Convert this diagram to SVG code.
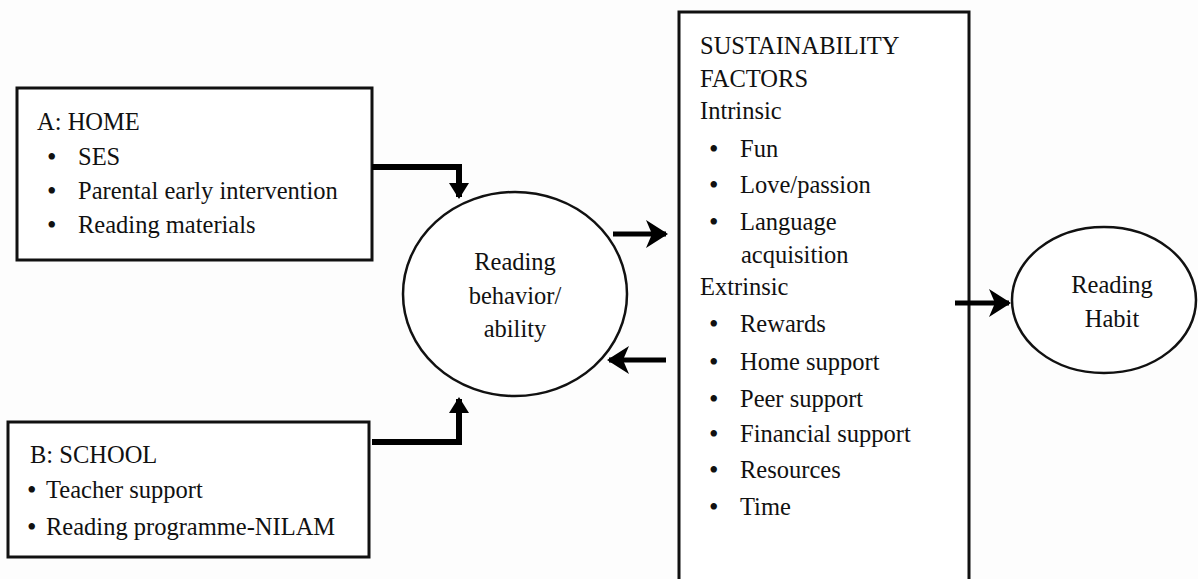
<svg xmlns="http://www.w3.org/2000/svg" width="1198" height="579" viewBox="0 0 1198 579">
<style>
  text { font-family: "Liberation Serif", "Times New Roman", serif; font-size: 24.5px; fill: #111; }
  .b { font-size: 27px; }
  .box { fill: #ffffff; stroke: #111; stroke-width: 3; }
  .ell { fill: #ffffff; stroke: #111; stroke-width: 2.5; }
  .mid { text-anchor: middle; }
  .conn { fill: none; stroke: #000; stroke-width: 6; }
  .conn2 { fill: none; stroke: #000; stroke-width: 5; }
</style>
<defs>
  <marker id="headBig" markerUnits="userSpaceOnUse" markerWidth="22" markerHeight="28" refX="20" refY="14" orient="auto">
    <path d="M0,0 L22,14 L0,28 L6,14 z" fill="#000"/>
  </marker>
  <marker id="headSmall" markerUnits="userSpaceOnUse" markerWidth="16" markerHeight="20" refX="14" refY="10" orient="auto">
    <path d="M0,0 L16,10 L0,20 z" fill="#000"/>
  </marker>
</defs>
<rect width="1198" height="579" fill="#fdfdfd"/>

<g id="home">
  <rect class="box" x="17" y="88" width="355" height="172"/>
  <text x="37" y="130">A: HOME</text>
  <text class="b" x="47" y="166">•</text><text x="78" y="165">SES</text>
  <text class="b" x="47" y="200">•</text><text x="78" y="199">Parental early intervention</text>
  <text class="b" x="47" y="234">•</text><text x="78" y="233">Reading materials</text>
</g>

<g id="school">
  <rect class="box" x="8" y="422" width="361" height="135"/>
  <text x="30" y="463">B: SCHOOL</text>
  <text class="b" x="27" y="499">•</text><text x="46" y="498">Teacher support</text>
  <text class="b" x="27" y="536">•</text><text x="46" y="535">Reading programme-NILAM</text>
</g>

<g id="reading-behavior">
  <ellipse class="ell" cx="515" cy="294" rx="112" ry="102"/>
  <text class="mid" x="515" y="270">Reading</text>
  <text class="mid" x="515" y="304">behavior/</text>
  <text class="mid" x="515" y="337">ability</text>
</g>

<g id="sustainability">
  <rect class="box" x="679" y="12" width="290" height="580"/>
  <text x="700" y="54">SUSTAINABILITY</text>
  <text x="700" y="87">FACTORS</text>
  <text x="700" y="119">Intrinsic</text>
  <text class="b" x="709" y="158">•</text><text x="740" y="157">Fun</text>
  <text class="b" x="709" y="194">•</text><text x="740" y="193">Love/passion</text>
  <text class="b" x="709" y="231">•</text><text x="740" y="230">Language</text>
  <text x="741" y="263">acquisition</text>
  <text x="700" y="295">Extrinsic</text>
  <text class="b" x="709" y="333">•</text><text x="740" y="332">Rewards</text>
  <text class="b" x="709" y="371">•</text><text x="740" y="370">Home support</text>
  <text class="b" x="709" y="408">•</text><text x="740" y="407">Peer support</text>
  <text class="b" x="709" y="443">•</text><text x="740" y="442">Financial support</text>
  <text class="b" x="709" y="479">•</text><text x="740" y="478">Resources</text>
  <text class="b" x="709" y="516">•</text><text x="740" y="515">Time</text>
</g>

<g id="reading-habit">
  <ellipse class="ell" cx="1104" cy="300" rx="92" ry="73"/>
  <text class="mid" x="1112" y="293">Reading</text>
  <text class="mid" x="1112" y="327">Habit</text>
</g>

<g id="connectors">
  <path class="conn" d="M372,167 L459,167 L459,197" marker-end="url(#headSmall)"/>
  <path class="conn" d="M372,442 L459,442 L459,399" marker-end="url(#headSmall)"/>
  <path class="conn2" d="M613,234 L666,234" marker-end="url(#headBig)"/>
  <path class="conn2" d="M666,360 L609,360" marker-end="url(#headBig)"/>
  <path class="conn2" d="M955,303 L1009,303" marker-end="url(#headBig)"/>
</g>
</svg>
